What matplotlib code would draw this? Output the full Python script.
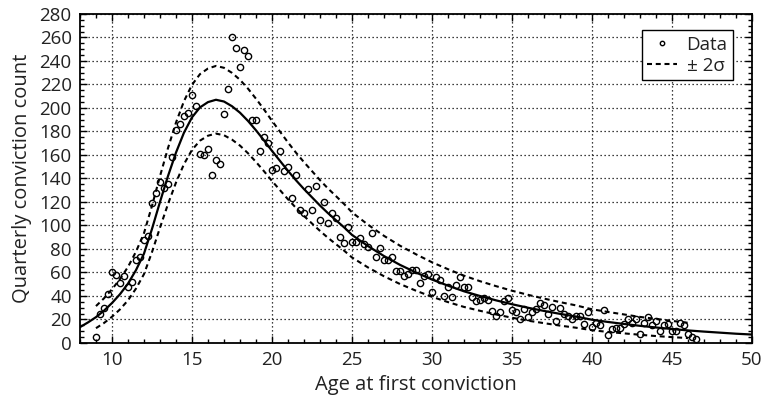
import matplotlib
matplotlib.use("Agg")
import matplotlib.pyplot as plt
from matplotlib.ticker import MultipleLocator

plt.rcParams['font.family'] = ['Open Sans', 'DejaVu Sans']

# quarterly counts by age at first conviction
ages = [
    9.0, 9.25, 9.5, 9.75, 10.0, 10.25, 10.5, 10.75, 11.0, 11.25, 11.5, 11.75,
    12.0, 12.25, 12.5, 12.75, 13.0, 13.25, 13.5, 13.75, 14.0, 14.25, 14.5, 14.75,
    15.0, 15.25, 15.5, 15.75, 16.0, 16.25, 16.5, 16.75, 17.0, 17.25, 17.5, 17.75,
    18.0, 18.25, 18.5, 18.75, 19.0, 19.25, 19.5, 19.75, 20.0, 20.25, 20.5, 20.75,
    21.0, 21.25, 21.5, 21.75, 22.0, 22.25, 22.5, 22.75, 23.0, 23.25, 23.5, 23.75,
    24.0, 24.25, 24.5, 24.75, 25.0, 25.25, 25.5, 25.75, 26.0, 26.25, 26.5, 26.75,
    27.0, 27.25, 27.5, 27.75, 28.0, 28.25, 28.5, 28.75, 29.0, 29.25, 29.5, 29.75,
    30.0, 30.25, 30.5, 30.75, 31.0, 31.25, 31.5, 31.75, 32.0, 32.25, 32.5, 32.75,
    33.0, 33.25, 33.5, 33.75, 34.0, 34.25, 34.5, 34.75, 35.0, 35.25, 35.5, 35.75,
    36.0, 36.25, 36.5, 36.75, 37.0, 37.25, 37.5, 37.75, 38.0, 38.25, 38.5, 38.75,
    39.0, 39.25, 39.5, 39.75, 40.0, 40.25, 40.5, 40.75, 41.0, 41.25, 41.5, 41.75,
    42.0, 42.25, 42.5, 42.75, 43.0, 43.25, 43.5, 43.75, 44.0, 44.25, 44.5, 44.75,
    45.0, 45.25, 45.5, 45.75, 46.0, 46.25, 46.5,
]
counts = [
    5, 25, 30, 42, 60, 58, 51, 57, 48, 52, 71, 73,
    88, 91, 119, 128, 137, 132, 135, 158, 181, 186, 193, 196,
    211, 202, 161, 160, 165, 143, 156, 152, 195, 216, 260, 251,
    235, 249, 244, 190, 190, 163, 175, 170, 147, 149, 163, 146,
    150, 123, 143, 113, 111, 131, 113, 134, 105, 120, 102, 111,
    106, 90, 85, 99, 86, 86, 89, 84, 82, 94, 73, 81,
    71, 71, 73, 61, 61, 57, 59, 62, 62, 51, 57, 59,
    43, 56, 54, 40, 48, 39, 49, 56, 48, 48, 39, 36,
    37, 38, 37, 27, 23, 26, 36, 38, 28, 26, 20, 29,
    22, 26, 29, 34, 32, 25, 31, 19, 30, 25, 23, 20,
    23, 23, 16, 26, 14, 17, 15, 28, 7, 12, 13, 13,
    16, 20, 17, 20, 8, 17, 22, 15, 19, 10, 15, 16,
    10, 10, 17, 15, 8, 5, 3,
]

# fitted curve
fit_x = [
    8.0, 8.5, 9.0, 9.5, 10.0, 10.5, 11.0, 11.5, 12.0, 12.5, 13.0, 13.5, 14.0,
    14.5, 15.0, 15.5, 16.0, 16.5, 17.0, 17.5, 18.0, 18.5, 19.0, 19.5, 20.0,
    20.5, 21.0, 21.5, 22.0, 22.5, 23.0, 23.5, 24.0, 24.5, 25.0, 26.0, 27.0,
    28.0, 29.0, 30.0, 31.0, 32.0, 33.0, 34.0, 35.0, 36.0, 37.0, 38.0, 39.0,
    40.0, 41.0, 42.0, 43.0, 44.0, 45.0, 46.0, 47.0, 48.0, 49.0, 50.0,
]
fit_y = [
    13.5, 17.5, 22.0, 27.5, 34.0, 41.5, 50.5, 62.0, 76.0, 97.0, 120.0, 142.0, 162.0,
    179.0, 192.0, 200.5, 205.0, 207.0, 205.5, 201.5, 196.0, 189.0, 181.0, 172.5, 163.5,
    155.0, 146.5, 138.5, 131.0, 124.0, 117.0, 110.5, 104.5, 98.5, 92.0, 82.5, 74.0,
    66.5, 60.0, 54.0, 48.8, 44.0, 40.0, 36.3, 33.0, 30.0, 27.3, 24.8, 22.5,
    19.8, 17.9, 16.2, 14.6, 13.2, 11.9, 10.7, 9.7, 8.8, 7.9, 7.2,
]

# +/- 2 sigma band around the fit
band_x = fit_x[2:56]
band_hi = [
    31.4, 38.0, 45.7, 54.4, 64.7, 77.7, 93.4, 116.7, 141.9, 165.8, 187.5,
    205.8, 219.7, 228.8, 233.6, 235.8, 234.2, 229.9, 224.0, 216.5, 207.9, 198.8, 189.1,
    179.9, 170.7, 162.0, 153.9, 146.3, 138.6, 131.5, 125.0, 118.4, 111.2, 100.7, 91.2,
    82.8, 75.5, 68.7, 62.8, 57.3, 52.6, 48.4, 44.5, 41.0, 37.8, 34.8, 32.0,
    28.7, 26.4, 24.3, 22.2, 20.5, 18.8, 17.2,
]
band_lo = [
    12.6, 17.0, 22.3, 28.6, 36.3, 46.3, 58.6, 77.3, 98.1, 118.2, 136.5,
    152.2, 164.3, 172.2, 176.4, 178.2, 176.8, 173.1, 168.0, 161.5, 154.1, 146.2, 137.9,
    130.1, 122.3, 115.0, 108.1, 101.7, 95.4, 89.5, 84.1, 78.7, 72.8, 64.3, 56.8,
    50.2, 44.5, 39.3, 34.8, 30.7, 27.4, 24.3, 21.5, 19.0, 16.9, 14.8, 13.0,
    10.9, 9.4, 8.2, 7.0, 5.9, 5.0, 4.2,
]

text_color = '#222222'

fig = plt.figure(figsize=(7.66, 4.03), dpi=100)
ax = fig.add_axes([0.1044, 0.1489, 0.8773, 0.8164])

ax.plot(ages, counts, linestyle='none', marker='o', markersize=4.5,
        markerfacecolor='none', markeredgecolor='black', markeredgewidth=1.0,
        label='Data', zorder=4)
ax.plot(fit_x, fit_y, color='black', linewidth=1.6, zorder=3)
ax.plot(band_x, band_hi, color='black', linewidth=1.5, dashes=(2.4, 1.8),
        label='± 2σ', zorder=3)
ax.plot(band_x, band_lo, color='black', linewidth=1.5, dashes=(2.4, 1.8), zorder=3)

ax.set_xlim(8, 50)
ax.set_ylim(0, 280)
ax.set_xticks(range(10, 51, 5))
ax.set_yticks(range(0, 281, 20))
ax.xaxis.set_minor_locator(MultipleLocator(1))
ax.yaxis.set_minor_locator(MultipleLocator(5))
ax.tick_params(which='both', direction='in', top=True, right=True,
               colors='black', labelcolor=text_color, labelsize=13.5, width=1.0)
ax.tick_params(which='major', length=5, pad=6)
ax.tick_params(which='minor', length=3)
for s in ax.spines.values():
    s.set_linewidth(1.3)
    s.set_color('black')

ax.grid(True, which='major', color='black', linestyle=(0, (1, 2.2)), linewidth=0.9)
ax.set_axisbelow(True)

ax.set_xlabel('Age at first conviction', fontsize=14.5, color=text_color, labelpad=4)
ax.set_ylabel('Quarterly conviction count', fontsize=14.5, color=text_color, labelpad=5)

leg = ax.legend(loc='upper right', bbox_to_anchor=(0.972, 0.951), borderaxespad=0,
                fancybox=False, framealpha=1, edgecolor='black', fontsize=13.5,
                handlelength=1.6, handletextpad=0.5, markerscale=0.7,
                borderpad=0.3, labelspacing=0.15)
leg.get_frame().set_linewidth(1.0)
for t in leg.get_texts():
    t.set_color(text_color)

fig.savefig('out.png', dpi=100)
